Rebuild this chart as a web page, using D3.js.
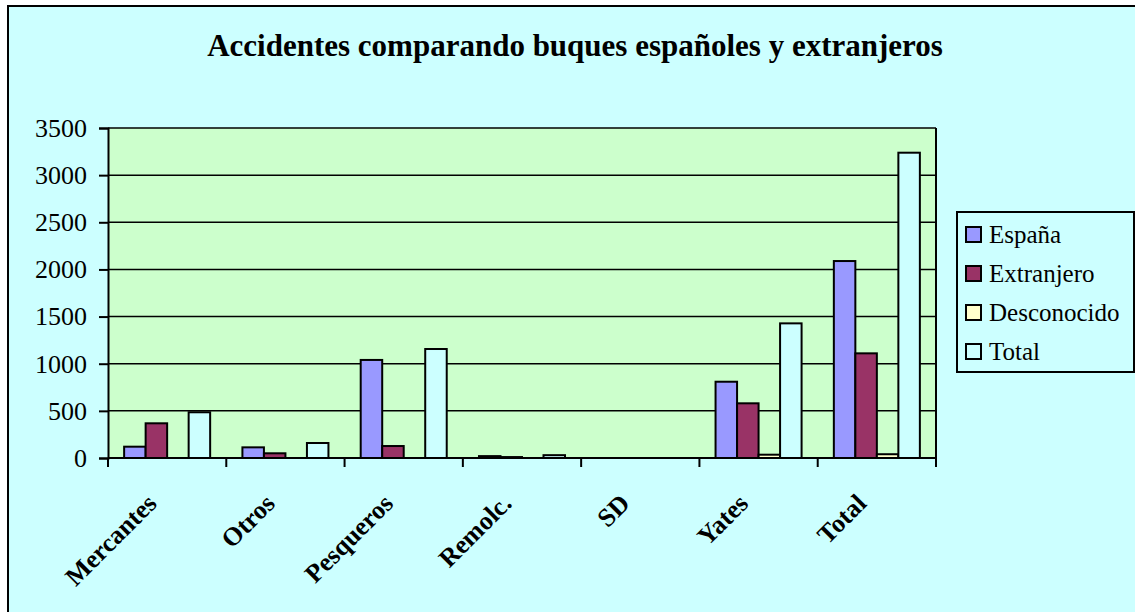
<!DOCTYPE html>
<html>
<head>
<meta charset="utf-8">
<script src="https://cdn.jsdelivr.net/npm/d3@7"></script>
<style>
  body { margin: 0; background: #fff; }
</style>
</head>
<body>
<div id="chart"></div>
<script>
const categories = ["Mercantes", "Otros", "Pesqueros", "Remolc.", "SD", "Yates", "Total"];
const seriesNames = ["España", "Extranjero", "Desconocido", "Total"];
const espana      = [120, 113, 1040, 20, 0, 809, 2089];
const extranjero  = [368, 50, 127, 10, 0, 580, 1110];
const desconocido = [0, 0, 0, 0, 0, 35, 40];
const total       = [485, 159, 1156, 30, 0, 1428, 3238];
const yTicks = [0, 500, 1000, 1500, 2000, 2500, 3000, 3500];
const colors = ["#9999FF", "#993366", "#FFFFCC", "#CCFFFF"];

const SERIF = "'Liberation Serif', 'Times New Roman', serif";

function createBarChart() {
    const W = 1135, H = 612;
    const margin = { top: 128, right: 199, bottom: 154, left: 108 },
        width = W - margin.left - margin.right,
        height = H - margin.top - margin.bottom;

    const svg = d3.select("#chart")
        .append("svg")
        .attr("width", W)
        .attr("height", H)
        .style("font-family", SERIF);

    // chart area background + border (runs off the right/bottom edge)
    svg.append("rect")
        .attr("x", 8).attr("y", 6)
        .attr("width", 1200).attr("height", 700)
        .attr("fill", "#CCFFFF")
        .attr("stroke", "#000")
        .attr("stroke-width", 2);

    svg.append("text")
        .attr("x", 575)
        .attr("y", 56)
        .attr("text-anchor", "middle")
        .style("font-family", SERIF)
        .style("font-size", "31px")
        .style("font-weight", "bold")
        .text("Accidentes comparando buques españoles y extranjeros");

    const g = svg.append("g")
        .attr("transform", `translate(${margin.left},${margin.top})`);

    // scales
    const x0 = d3.scaleBand().domain(categories).range([0, width]);
    const bw = x0.bandwidth() / 5.5;   // gap width 150%
    const x1 = d3.scaleBand().domain(seriesNames)
        .range([bw * 0.75, x0.bandwidth() - bw * 0.75]);
    const y = d3.scaleLinear().domain([0, 3500]).range([height, 0]);

    // plot background
    g.append("rect")
        .attr("width", width).attr("height", height)
        .attr("fill", "#CCFFCC");

    // gridlines
    g.selectAll(".grid")
        .data(yTicks)
        .enter()
        .append("line")
        .attr("x1", 0).attr("x2", width)
        .attr("y1", d => y(d)).attr("y2", d => y(d))
        .attr("stroke", "#000")
        .attr("stroke-width", 1.5);

    // bars
    const rows = categories.map((c, i) => ({
        cat: c,
        vals: [espana[i], extranjero[i], desconocido[i], total[i]]
    }));

    const groups = g.selectAll(".cat")
        .data(rows)
        .enter()
        .append("g")
        .attr("transform", d => `translate(${x0(d.cat)},0)`);

    groups.selectAll("rect")
        .data(d => d.vals.map((v, j) => ({ key: seriesNames[j], v: v, j: j })))
        .enter()
        .filter(d => d.v > 0)
        .append("rect")
        .attr("x", d => x1(d.key))
        .attr("y", d => y(d.v))
        .attr("width", x1.bandwidth())
        .attr("height", d => height - y(d.v))
        .attr("fill", d => colors[d.j])
        .attr("stroke", "#000")
        .attr("stroke-width", 2);

    // right border of plot
    g.append("line")
        .attr("x1", width).attr("x2", width)
        .attr("y1", 0).attr("y2", height)
        .attr("stroke", "#000").attr("stroke-width", 2);

    // y axis
    const yAxis = d3.axisLeft(y)
        .tickValues(yTicks)
        .tickFormat(d3.format("d"))
        .tickSize(9)
        .tickPadding(12);
    const ya = g.append("g").call(yAxis).attr("font-family", null);
    ya.select(".domain").attr("stroke-width", 2);
    ya.selectAll(".tick line").attr("stroke-width", 2);
    ya.selectAll("text")
        .style("font-size", "26px")
        .style("font-family", SERIF);

    // x axis (ticks at category edges)
    const xa = g.append("g").attr("transform", `translate(0,${height})`);
    xa.append("line")
        .attr("x1", 0).attr("x2", width)
        .attr("stroke", "#000").attr("stroke-width", 2);
    const edges = categories.map(c => x0(c)).concat([width]);
    xa.selectAll(".xt")
        .data(edges)
        .enter()
        .append("line")
        .attr("x1", d => d).attr("x2", d => d)
        .attr("y1", 0).attr("y2", 9)
        .attr("stroke", "#000").attr("stroke-width", 2);

    xa.selectAll(".xl")
        .data(categories)
        .enter()
        .append("text")
        .attr("text-anchor", "end")
        .attr("transform", d => `translate(${x0(d) + x0.bandwidth() / 2 - 9},47) rotate(-45)`)
        .style("font-family", SERIF)
        .style("font-size", "26px")
        .style("font-weight", "bold")
        .text(d => d);

    // legend
    const legend = svg.append("g").attr("transform", "translate(957,212)");
    legend.append("rect")
        .attr("width", 177).attr("height", 160)
        .attr("fill", "#CCFFFF")
        .attr("stroke", "#000").attr("stroke-width", 2);

    seriesNames.forEach((s, i) => {
        const cy = 23 + i * 39;
        legend.append("rect")
            .attr("x", 9).attr("y", cy - 8)
            .attr("width", 15).attr("height", 15)
            .attr("fill", colors[i])
            .attr("stroke", "#000").attr("stroke-width", 2);
        legend.append("text")
            .attr("x", 32).attr("y", cy + 8)
            .style("font-family", SERIF)
            .style("font-size", "25px")
            .text(s);
    });
}
createBarChart();
</script>
</body>
</html>
